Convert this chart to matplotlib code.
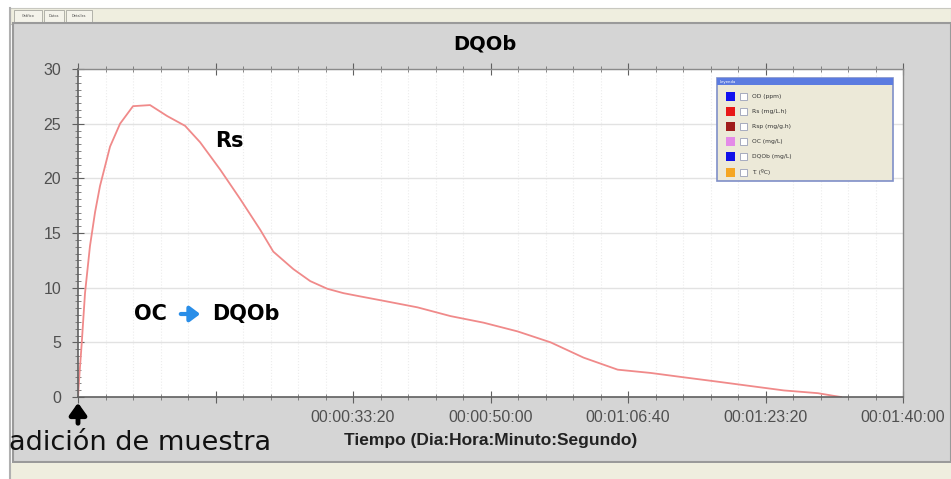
import matplotlib
matplotlib.use('Agg')
from matplotlib import pyplot as plt
from matplotlib.patches import Rectangle
from matplotlib.ticker import MultipleLocator, FixedLocator, FixedFormatter

# datos (tiempo en segundos, Rs en mg/L.h)
tiempo = [0, 13, 27, 51, 87, 124, 160, 233, 306, 400, 524, 648, 779, 888, 1034,
          1180, 1325, 1420, 1566, 1689, 1813, 1930, 2053, 2221, 2469, 2709,
          2949, 3197, 3437, 3677, 3925, 4165, 4406, 4653, 4893, 5134, 5381,
          5498, 5549]
rs = [0, 2.5, 4.9, 9.5, 13.8, 16.9, 19.3, 22.9, 25.0, 26.6, 26.7, 25.7, 24.8,
      23.3, 20.8, 18.1, 15.3, 13.3, 11.7, 10.6, 9.9, 9.5, 9.2, 8.8, 8.2, 7.4,
      6.8, 6.0, 5.0, 3.6, 2.5, 2.2, 1.8, 1.4, 1.0, 0.6, 0.35, 0.1, 0.0]

x_ticks = [0, 1000, 2000, 3000, 4000, 5000, 6000]
x_labels = ['', '', '00:00:33:20', '00:00:50:00', '00:01:06:40',
            '00:01:23:20', '00:01:40:00']
y_ticks = [0, 5, 10, 15, 20, 25, 30]

leyenda_txt = ['OD (ppm)', 'Rs (mg/L.h)', 'Rsp (mg/g.h)', 'OC (mg/L)',
               'DQOb (mg/L)', 'T. (ºC)']
leyenda_col = ['#1010f0', '#e81818', '#a01c1c', '#e48ae8', '#1010e8', '#f5a623']

W, H = 951, 479
fig = plt.figure(figsize=(W / 100, H / 100), dpi=100, facecolor='white')

# fondo tipo ventana
bg = fig.add_axes([0, 0, 1, 1], zorder=0)
bg.set_xlim(0, W)
bg.set_ylim(H, 0)
bg.axis('off')
bg.add_patch(Rectangle((10, 8), W - 10, 16, fc='#efeedf', ec='#c8c8c0', lw=0.8))
for x0, w, t in [(14, 28, 'Gráfico'), (44, 20, 'Datos'), (66, 26, 'Detalles')]:
    bg.add_patch(Rectangle((x0, 10), w, 12, fc='#f4f3ea', ec='#a8a8a0', lw=0.6))
    bg.text(x0 + w / 2, 16, t, fontsize=2.5, ha='center', va='center', color='#444444')
bg.add_patch(Rectangle((13, 23), W - 13, 439, fc='#d5d5d5', ec='#9a9a9a', lw=1.5))
bg.add_patch(Rectangle((10, 463), W - 10, 16, fc='#efeedf', ec='none'))
bg.plot([10, 10], [8, 479], color='#b0b0b0', lw=1.5)

# grafico principal
l, r, t, b = 78, 903, 69, 397
ax = fig.add_axes([l / W, 1 - b / H, (r - l) / W, (b - t) / H], zorder=1)
ax.set_facecolor('white')
ax.plot(tiempo, rs, color='#f08a8a', lw=1.3)
ax.set_xlim(0, 6000)
ax.set_ylim(0, 30)

ax.xaxis.set_major_locator(FixedLocator(x_ticks))
ax.xaxis.set_major_formatter(FixedFormatter(x_labels))
ax.xaxis.set_minor_locator(MultipleLocator(200))
ax.yaxis.set_major_locator(FixedLocator(y_ticks))
ax.yaxis.set_minor_locator(MultipleLocator(0.625))

ax.grid(True, which='major', axis='y', color='#e2e2e2', lw=1)
ax.grid(True, which='minor', axis='x', color='#ececec', lw=0.8, ls=':')
ax.set_axisbelow(True)

for s in ['left', 'bottom']:
    ax.spines[s].set_color('#606060')
    ax.spines[s].set_linewidth(1.2)
for s in ['top', 'right']:
    ax.spines[s].set_color('#8a8a8a')
    ax.spines[s].set_linewidth(1)

ax.tick_params(axis='both', which='major', direction='inout', length=8,
               color='#606060', labelsize=11.5, labelcolor='#505050', pad=5)
ax.tick_params(axis='both', which='minor', direction='inout', length=4,
               color='#707070')
ax.tick_params(axis='x', which='both', top=True)
ax.tick_params(axis='y', pad=8)
for lab in ax.get_xticklabels() + ax.get_yticklabels():
    lab.set_fontfamily('Liberation Sans')

# capa superior: textos, flecha y leyenda
ov = fig.add_axes([0, 0, 1, 1], zorder=2)
ov.set_xlim(0, W)
ov.set_ylim(H, 0)
ov.axis('off')
ov.patch.set_alpha(0)

ov.text(485, 44, 'DQOb', fontsize=14, fontweight='bold', ha='center', va='center')
ov.text(229, 141, 'Rs', fontsize=15, fontweight='bold', ha='center', va='center')
ov.text(134, 314, 'OC', fontsize=15, fontweight='bold', ha='left', va='center')
ov.text(212, 314, 'DQOb', fontsize=15, fontweight='bold', ha='left', va='center')
ov.annotate('', xy=(203, 314), xytext=(178, 314),
            arrowprops=dict(arrowstyle='-|>,head_length=0.6,head_width=0.45',
                            color='#2a8ee8', lw=3))
ov.annotate('', xy=(78, 400), xytext=(78, 426),
            arrowprops=dict(arrowstyle='-|>,head_length=0.7,head_width=0.5',
                            color='black', lw=3.5))
ov.text(9, 443, 'adición de muestra', fontsize=19.5, ha='left', va='center',
        color='#111111')
ov.text(491, 440, 'Tiempo (Dia:Hora:Minuto:Segundo)', fontsize=12.5,
        fontweight='bold', family='Liberation Sans', ha='center', va='center',
        color='#222222')

# leyenda del programa
lx, ly, lw_, lh = 717, 78, 176, 103
ov.add_patch(Rectangle((lx, ly), lw_, lh, fc='#ece9d8', ec='#7f8fc8', lw=1.2))
ov.add_patch(Rectangle((lx, ly), lw_, 7, fc='#5b7be0', ec='none'))
ov.text(lx + 3, ly + 3.5, 'Leyenda', fontsize=2.8, color='white', va='center')
for i, (txt, col) in enumerate(zip(leyenda_txt, leyenda_col)):
    yy = 96 + i * 15.2
    ov.add_patch(Rectangle((726, yy - 4.5), 9, 9, fc=col, ec='none'))
    ov.add_patch(Rectangle((740, yy - 3.5), 7, 7, fc='white', ec='#9aa0b8', lw=0.6))
    ov.text(752, yy, txt, fontsize=4.3, va='center', color='#333333')

fig.savefig('out.png', dpi=100, facecolor='white')
